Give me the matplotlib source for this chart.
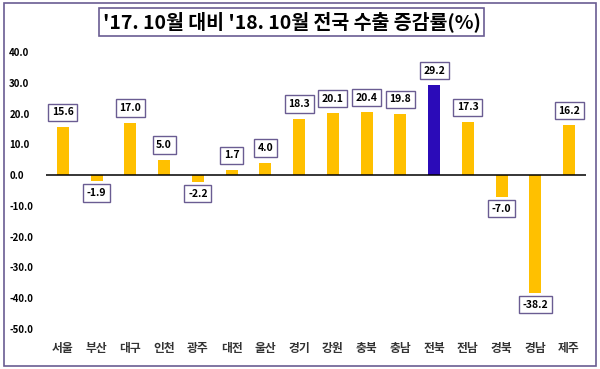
import matplotlib.pyplot as plt
from matplotlib.patches import Rectangle

plt.rcParams['font.family'] = ['Noto Sans CJK KR', 'DejaVu Sans']

regions = ['서울', '부산', '대구', '인천', '광주', '대전', '울산', '경기',
           '강원', '충북', '충남', '전북', '전남', '경북', '경남', '제주']
change = [15.6, -1.9, 17.0, 5.0, -2.2, 1.7, 4.0, 18.3,
          20.1, 20.4, 19.8, 29.2, 17.3, -7.0, -38.2, 16.2]
yticks = [40, 30, 20, 10, 0, -10, -20, -30, -40, -50]

yellow = '#FFC000'
blue = '#2B0BB8'
frame = '#6A5C92'

colors = [blue if r == '전북' else yellow for r in regions]

fig = plt.figure(figsize=(6, 3.69), dpi=100)
ax = fig.add_axes([0.0767, 0.1084, 0.9, 0.7506])

x = range(len(regions))
ax.bar(x, change, width=0.36, color=colors, zorder=2)
ax.axhline(0, color='black', lw=1.1, zorder=3)

ax.set_xlim(-0.5, len(regions) - 0.5)
ax.set_ylim(-50, 40)
ax.set_yticks(yticks)
ax.set_yticklabels([f'{v:.1f}' for v in yticks], fontsize=7,
                   fontweight='bold', ha='left')
ax.set_xticks(list(x))
ax.set_xticklabels(regions, fontsize=8.5, fontweight='bold', color='#333333')
ax.tick_params(axis='y', length=0, pad=26.5)
ax.tick_params(axis='x', length=0, pad=9)
for s in ax.spines.values():
    s.set_visible(False)

# value boxes
for i, v in enumerate(change):
    if v >= 0:
        off, va = 7, 'bottom'
    else:
        off, va = -5, 'top'
    ax.annotate(f'{v:.1f}', (i, v), xytext=(0, off), textcoords='offset points',
                ha='center', va=va, fontsize=7.5, fontweight='bold',
                bbox=dict(boxstyle='square,pad=0.35', fc='white', ec=frame, lw=1),
                zorder=4)

# title
fig.text(0.486, 0.94, "'17. 10월 대비 '18. 10월 전국 수출 증감률(%)",
         ha='center', va='center', fontsize=14, fontweight='bold',
         bbox=dict(boxstyle='square,pad=0.2', fc='white', ec=frame, lw=1.2))

# outer frame
fig.patches.append(Rectangle((0.006, 0.008), 0.988, 0.984, transform=fig.transFigure,
                             fill=False, ec=frame, lw=1.2))

plt.savefig('out.png', dpi=100)
